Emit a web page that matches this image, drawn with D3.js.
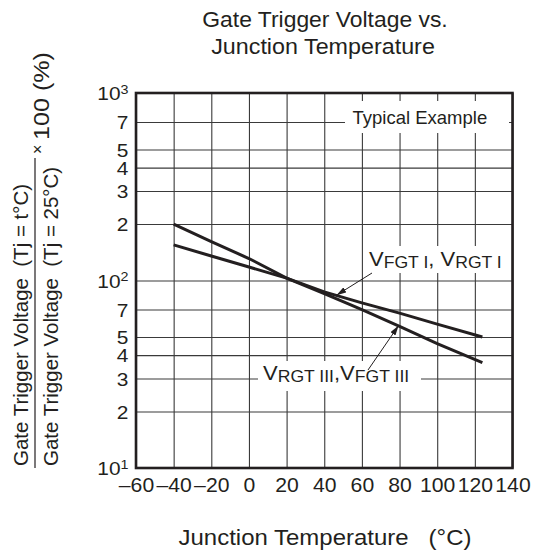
<!DOCTYPE html>
<html>
<head>
<meta charset="utf-8">
<script src="https://cdn.jsdelivr.net/npm/d3@7"></script>
<style>
  html, body { margin: 0; padding: 0; background: #fff; }
  svg { display: block; font-family: "Liberation Sans", Arial, sans-serif; }
  text { white-space: pre; }
</style>
</head>
<body>
<svg id="chart" width="534" height="554"></svg>
<script>
// ---- data ----
const xTicks = [-60, -40, -20, 0, 20, 40, 60, 80, 100, 120, 140];
const yTicks = [10, 20, 30, 40, 50, 70, 100, 200, 300, 400, 500, 700, 1000];
const yPowers = [10, 100, 1000];
const temps = [-40, -20, 0, 20, 40, 60, 80, 100, 124];
const vgtIII = [200, 161, 131, 103, 85, 70, 57, 46, 36.5];   // VRGT III, VFGT III
const vgtI   = [155, 135, 118, 103, 87, 76, 67, 58.5, 50];   // VFGT I, VRGT I
const titleLines = ["Gate Trigger Voltage vs.", "Junction Temperature"];
const xTitle = "Junction Temperature   (°C)";
const yTitleNum = "Gate Trigger Voltage  (Tj = t°C)";
const yTitleDen = "Gate Trigger Voltage  (Tj = 25°C)";
const annotTypical = "Typical Example";

const INK = "#231f20";
const FONT = "'Liberation Sans', Arial, sans-serif";

const svg = d3.select("#chart");
const L = 136, R = 512.5, T = 93, B = 468;
const x = d3.scaleLinear().domain([-60, 140]).range([L, R]);
const y = d3.scaleLog().domain([10, 1000]).range([B, T]);

function stext(parent, tx, ty, str, size, anchor, sx) {
  return parent.append("text")
    .attr("transform", `translate(${tx},${ty}) scale(${sx},1)`)
    .attr("text-anchor", anchor || "start")
    .attr("font-size", size)
    .attr("fill", INK)
    .text(str);
}

// ---- grid via axes ----
const gx = svg.append("g").attr("transform", `translate(0,${B})`)
  .call(d3.axisBottom(x).tickValues(xTicks).tickSize(-(B - T)).tickSizeOuter(0)
    .tickFormat(d => d < 0 ? "\u2013" + Math.abs(d) : String(d)));
gx.select(".domain").remove();
gx.selectAll(".tick line").attr("stroke", "#3a3a3a").attr("stroke-width", 1.1);
gx.selectAll(".tick text")
  .attr("y", 0).attr("dy", 0)
  .attr("transform", `translate(0,24) scale(1.06,1)`)
  .attr("font-size", 20).attr("font-family", FONT).attr("fill", INK);

const gy = svg.append("g").attr("transform", `translate(${L},0)`)
  .call(d3.axisLeft(y).tickValues(yTicks).tickSize(-(R - L)).tickSizeOuter(0));
gy.select(".domain").remove();
gy.selectAll(".tick line").attr("stroke", "#3a3a3a").attr("stroke-width", 1.1);
gy.selectAll(".tick text").each(function(d) {
  const t = d3.select(this);
  t.text(null).attr("x", 0).attr("dy", 0).attr("y", 0)
    .attr("font-size", 19).attr("font-family", FONT).attr("fill", INK)
    .attr("text-anchor", "end")
    .attr("transform", `translate(-7.5,6.8) scale(1.1,1)`);
  if (yPowers.includes(d)) {
    const e = Math.round(Math.log10(d));
    t.append("tspan").text("10");
    t.append("tspan").attr("font-size", 13).attr("dy", -6.5).text(String(e));
  } else {
    t.text(String(Math.round(d / Math.pow(10, Math.floor(Math.log10(d) + 1e-9)))));
  }
});

// ---- white label boxes ----
const boxes = svg.append("g");
boxes.append("rect").attr("x", 345).attr("y", 101).attr("width", 164).attr("height", 32).attr("fill", "#fff");
boxes.append("rect").attr("x", 366).attr("y", 246).attr("width", 143).attr("height", 27).attr("fill", "#fff");
boxes.append("rect").attr("x", 258).attr("y", 361).attr("width", 163).attr("height", 30).attr("fill", "#fff");

// ---- frame ----
svg.append("rect").attr("x", L).attr("y", T).attr("width", R - L).attr("height", B - T)
  .attr("fill", "none").attr("stroke", INK).attr("stroke-width", 2.6);

// ---- curves ----
const line = d3.line().x(d => x(d[0])).y(d => y(d[1]));
[vgtIII, vgtI].forEach(vals => {
  svg.append("path").datum(temps.map((t, i) => [t, vals[i]]))
    .attr("d", line).attr("fill", "none").attr("stroke", INK)
    .attr("stroke-width", 3).attr("stroke-linecap", "butt");
});

// ---- arrows ----
const defs = svg.append("defs");
defs.append("marker").attr("id", "ah").attr("viewBox", "0 0 10 6")
  .attr("refX", 10).attr("refY", 3).attr("markerWidth", 10).attr("markerHeight", 6)
  .attr("markerUnits", "userSpaceOnUse").attr("orient", "auto")
  .append("path").attr("d", "M0,0 L10,3 L0,6 Z").attr("fill", INK);
svg.append("line").attr("x1", 372).attr("y1", 273).attr("x2", x(46.5)).attr("y2", y(83.5))
  .attr("stroke", INK).attr("stroke-width", 1).attr("marker-end", "url(#ah)");
svg.append("line").attr("x1", 368).attr("y1", 370).attr("x2", x(79.5)).attr("y2", y(57.5))
  .attr("stroke", INK).attr("stroke-width", 1).attr("marker-end", "url(#ah)");

// ---- annotations ----
stext(svg, 352.5, 124, annotTypical, 18.5, "start", 1.0);

function vlabel(tx, ty, parts) {
  const t = svg.append("text")
    .attr("transform", `translate(${tx},${ty}) scale(1.1,1)`)
    .attr("font-size", 20).attr("fill", INK);
  let shifted = false;
  parts.forEach(p => {
    const s = t.append("tspan").text(p[0]);
    if (p[1]) {
      s.attr("font-size", 16);
      if (!shifted) { s.attr("dy", 2.3); shifted = true; }
    } else if (shifted) { s.attr("dy", -2.3); shifted = false; }
  });
}
vlabel(369, 266, [["V"], ["FGT I", 1], [", V"], ["RGT I", 1]]);
vlabel(263, 380, [["V"], ["RGT III", 1], [",V"], ["FGT III", 1]]);

// ---- titles ----
stext(svg, 325, 26.5, titleLines[0], 22, "middle", 1.04);
stext(svg, 323, 53.5, titleLines[1], 22, "middle", 1.06);
stext(svg, 325, 545, xTitle, 22, "middle", 1.09);

// ---- y-axis title (fraction) ----
function vtext(bx, by, str, size, anchor, sx) {
  return svg.append("text")
    .attr("transform", `translate(${bx},${by}) scale(${sx},1) rotate(-90)`)
    .attr("text-anchor", anchor).attr("font-size", size).attr("fill", INK).text(str);
}
vtext(27.5, 466, yTitleNum, 20.5, "start", 1.03);
vtext(58, 466, yTitleDen, 20.5, "start", 1.03);
svg.append("line").attr("x1", 35).attr("x2", 35).attr("y1", 468).attr("y2", 158)
  .attr("stroke", INK).attr("stroke-width", 1.2);
vtext(42.5, 154, "×", 16, "start", 1.0);
vtext(49, 140, "100 (%)", 21, "start", 1.03).attr("textLength", 88).attr("lengthAdjust", "spacingAndGlyphs");
</script>
</body>
</html>
